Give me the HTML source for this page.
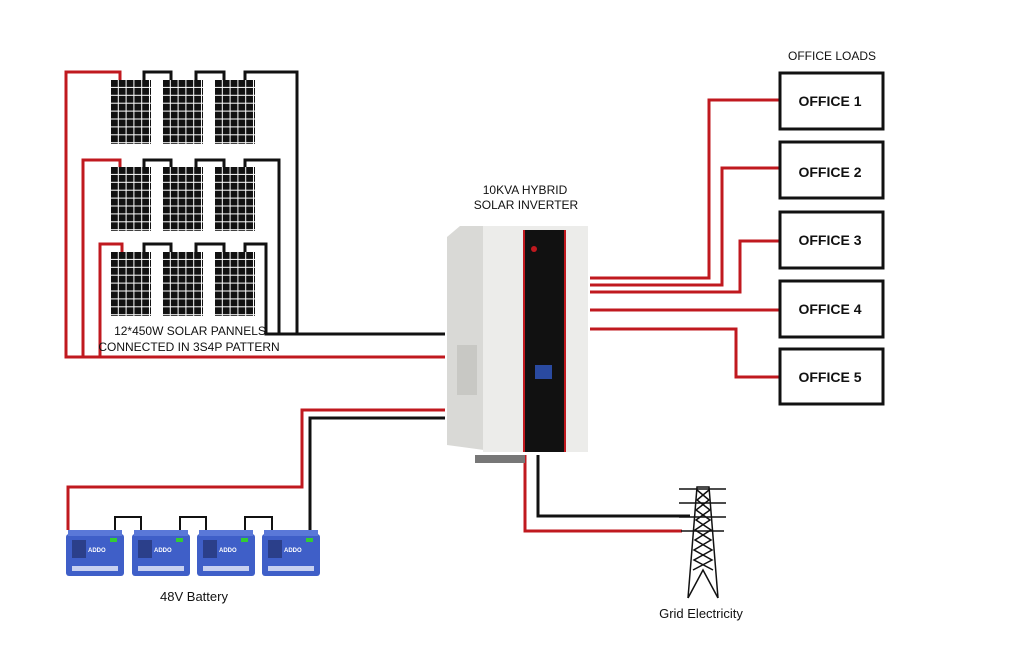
<!DOCTYPE html>
<html><head><meta charset="utf-8"><style>
html,body{margin:0;padding:0;background:#fff;}
svg{display:block;font-family:"Liberation Sans",sans-serif;}
</style></head><body>
<svg width="1022" height="662" viewBox="0 0 1022 662" xmlns="http://www.w3.org/2000/svg">
<defs>
<pattern id="cell" x="0" y="0" width="7.8" height="7.9" patternUnits="userSpaceOnUse">
<rect x="0" y="0" width="6.8" height="6.9" fill="#111"/>
</pattern>
<g id="panel"><rect x="0" y="0" width="40" height="64" fill="#fff"/><rect x="0" y="0" width="40" height="64" fill="url(#cell)"/></g>
<g id="batt">
<rect x="0" y="4" width="58" height="42" rx="3" fill="#3f5fc8"/>
<rect x="2" y="0" width="54" height="6" fill="#5a78d8"/>
<rect x="6" y="10" width="14" height="18" fill="#2b3f8a"/>
<text x="22" y="22" font-size="6" fill="#fff" font-weight="bold">ADDO</text>
<rect x="6" y="36" width="46" height="5" fill="#c7d0f0"/>
<rect x="44" y="8" width="7" height="4" fill="#3c3"/>
</g>
</defs>

<!-- solar wiring -->
<g fill="none" stroke-width="3">
<polyline points="120,80 120,72 66,72 66,357 445,357" stroke="#c0191f"/>
<polyline points="120,167 120,160 83,160 83,357" stroke="#c0191f"/>
<polyline points="122,252 122,244 100,244 100,357" stroke="#c0191f"/>
<g stroke="#111">
<polyline points="144,80 144,72 171,72 171,80"/>
<polyline points="196,80 196,72 224,72 224,80"/>
<polyline points="245,80 245,72 297,72 297,334"/>
<polyline points="144,167 144,160 171,160 171,167"/>
<polyline points="196,167 196,160 224,160 224,167"/>
<polyline points="245,167 245,160 279,160 279,334"/>
<polyline points="144,252 144,244 171,244 171,252"/>
<polyline points="196,252 196,244 224,244 224,252"/>
<polyline points="245,252 245,244 266,244 266,334 445,334"/>
</g>
</g>
<!-- panels -->
<use href="#panel" x="111" y="80"/><use href="#panel" x="163" y="80"/><use href="#panel" x="215" y="80"/>
<use href="#panel" x="111" y="167"/><use href="#panel" x="163" y="167"/><use href="#panel" x="215" y="167"/>
<use href="#panel" x="111" y="252"/><use href="#panel" x="163" y="252"/><use href="#panel" x="215" y="252"/>
<text x="190" y="335" font-size="12" text-anchor="middle" fill="#111">12*450W SOLAR PANNELS</text>
<text x="189" y="351" font-size="12" text-anchor="middle" fill="#111">CONNECTED IN 3S4P PATTERN</text>

<!-- battery wiring -->
<g fill="none" stroke-width="3">
<polyline points="445,410 302,410 302,487 68,487 68,530" stroke="#c0191f"/>
<polyline points="445,418 310,418 310,530" stroke="#111"/>
<g stroke="#111" stroke-width="2">
<polyline points="115,530 115,517 141,517 141,530"/>
<polyline points="180,530 180,517 206,517 206,530"/>
<polyline points="245,530 245,517 272,517 272,530"/>
</g>
</g>
<use href="#batt" x="66" y="530"/><use href="#batt" x="132" y="530"/><use href="#batt" x="197" y="530"/><use href="#batt" x="262" y="530"/>
<text x="194" y="601" font-size="13" text-anchor="middle" fill="#111">48V  Battery</text>

<!-- office wiring -->
<g fill="none" stroke="#c0191f" stroke-width="3">
<polyline points="590,278 709,278 709,100 779,100"/>
<polyline points="590,285 722,285 722,168 779,168"/>
<polyline points="590,292 740,292 740,241 779,241"/>
<polyline points="590,310 779,310"/>
<polyline points="590,329 736,329 736,377 779,377"/>
</g>
<g fill="#fff" stroke="#111" stroke-width="3">
<rect x="780" y="73" width="103" height="56"/>
<rect x="780" y="142" width="103" height="56"/>
<rect x="780" y="212" width="103" height="56"/>
<rect x="780" y="281" width="103" height="56"/>
<rect x="780" y="349" width="103" height="55"/>
</g>
<g font-size="14" font-weight="bold" text-anchor="middle" fill="#111">
<text x="830" y="106">OFFICE 1</text>
<text x="830" y="177">OFFICE 2</text>
<text x="830" y="245">OFFICE 3</text>
<text x="830" y="314">OFFICE 4</text>
<text x="830" y="382">OFFICE 5</text>
</g>
<text x="832" y="60" font-size="12" text-anchor="middle" fill="#111">OFFICE LOADS</text>

<!-- grid wiring -->
<g fill="none" stroke-width="3">
<polyline points="525,455 525,531 682,531" stroke="#c0191f"/>
<polyline points="538,455 538,516 690,516" stroke="#111"/>
</g>
<!-- tower -->
<g stroke="#111" stroke-width="1.5" fill="none">
<polyline points="688,598 697,487 709,487 718,598"/>
<polyline points="688,598 703,570 718,598"/>
<line x1="679" y1="489" x2="726" y2="489"/>
<line x1="679" y1="503" x2="726" y2="503"/>
<line x1="679" y1="517" x2="726" y2="517"/>
<line x1="681" y1="531" x2="724" y2="531"/>
<polyline points="697,490 709,500 696,510 710,520 695,530 711,540 694,550 712,560 693,570"/>
<polyline points="709,490 697,500 710,510 696,520 711,530 695,540 712,550 694,560 713,570"/>
</g>
<text x="701" y="618" font-size="13" text-anchor="middle" fill="#111">Grid Electricity</text>

<!-- inverter -->
<rect x="475" y="455" width="50" height="8" fill="#777"/>
<polygon points="447,237 460,226 484,226 484,450 447,445" fill="#d9d9d6"/>
<rect x="457" y="345" width="20" height="50" fill="#c8c8c4"/>
<rect x="483" y="226" width="105" height="226" fill="#ececea"/>
<rect x="525" y="230" width="39" height="222" fill="#111"/>
<rect x="523" y="230" width="2" height="222" fill="#c0191f"/>
<rect x="564" y="230" width="2" height="222" fill="#c0191f"/>
<rect x="535" y="365" width="17" height="14" fill="#2a4aa0"/>
<circle cx="534" cy="249" r="3" fill="#c0191f"/>
<text x="525" y="194" font-size="12" text-anchor="middle" fill="#111">10KVA  HYBRID</text>
<text x="526" y="209" font-size="12" text-anchor="middle" fill="#111">SOLAR INVERTER</text>
</svg>
</body></html>
